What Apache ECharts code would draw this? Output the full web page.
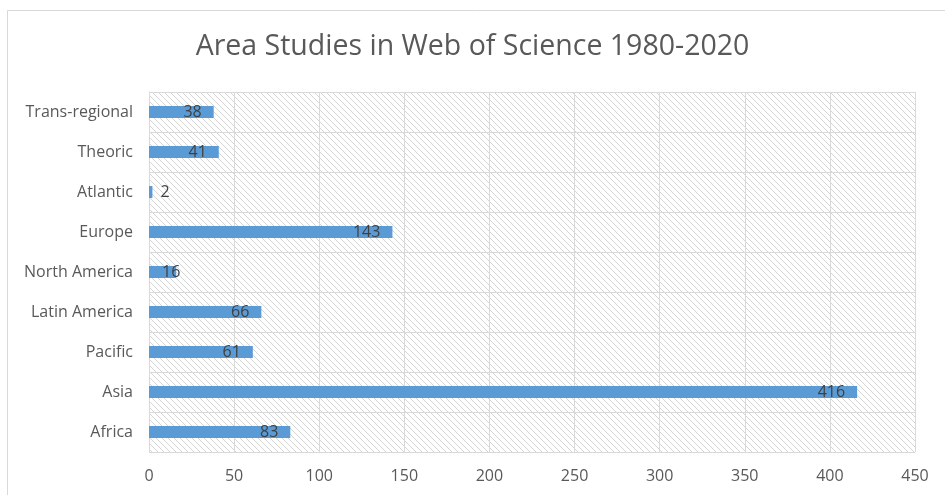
<!DOCTYPE html>
<html>
<head>
<meta charset="utf-8">
<script src="https://cdn.jsdelivr.net/npm/echarts@6/dist/echarts.min.js"></script>
<style>
html,body{margin:0;padding:0;background:#fff;}
#chart{width:945px;height:495px;}
</style>
</head>
<body>
<div id="chart"></div>
<script>
const categories = ['Africa', 'Asia', 'Pacific', 'Latin America', 'North America', 'Europe', 'Atlantic', 'Theoric', 'Trans-regional'];
const values = [83, 416, 61, 66, 16, 143, 2, 41, 38];
const xTicks = [0, 50, 100, 150, 200, 250, 300, 350, 400, 450];
const titleText = 'Area Studies in Web of Science 1980-2020';

function makeHatch() {
  const c = document.createElement('canvas');
  const s = 6;
  c.width = s; c.height = s;
  const g = c.getContext('2d');
  g.fillStyle = '#ffffff';
  g.fillRect(0, 0, s, s);
  g.strokeStyle = '#d4d4d4';
  g.lineWidth = 1;
  g.beginPath();
  g.moveTo(-1, -1); g.lineTo(s + 1, s + 1);
  g.moveTo(-1, s - 1); g.lineTo(1, s + 1);
  g.moveTo(s - 1, -1); g.lineTo(s + 1, 1);
  g.stroke();
  return c;
}

const font = '"Open Sans", "Noto Sans", sans-serif';
const chart = echarts.init(document.getElementById('chart'), null, {renderer: 'canvas'});

const seriesData = values.map(v => {
  if (v < 10) {
    return {value: v, label: {position: 'right', distance: 8}};
  }
  if (v < 25) {
    return {value: v, label: {position: 'insideLeft', distance: 13}};
  }
  return v;
});

chart.setOption({
  animation: false,
  backgroundColor: '#ffffff',
  graphic: [{
    type: 'rect',
    shape: {x: 7.5, y: 10.5, width: 960, height: 500},
    style: {fill: 'none', stroke: '#d9d9d9', lineWidth: 1},
    silent: true
  }],
  title: {
    text: titleText,
    left: 'center',
    top: 27,
    textStyle: {fontFamily: font, fontSize: 28.5, fontWeight: 'normal', color: '#595959'}
  },
  grid: {
    left: 149, right: 30, top: 92, height: 360,
    show: true,
    borderWidth: 0,
    backgroundColor: {image: makeHatch(), repeat: 'repeat'}
  },
  xAxis: {
    type: 'value',
    min: 0, max: 450, interval: 50,
    axisLine: {show: false},
    axisTick: {show: false},
    axisLabel: {color: '#595959', fontSize: 16, fontFamily: font, margin: 16,
      formatter: v => xTicks.includes(v) ? String(v) : ''},
    splitLine: {show: true, lineStyle: {color: '#d9d9d9', width: 1}}
  },
  yAxis: {
    type: 'category',
    data: categories,
    boundaryGap: true,
    axisLine: {show: true, lineStyle: {color: '#d9d9d9'}},
    axisTick: {show: false},
    axisLabel: {color: '#595959', fontSize: 16, fontFamily: font, margin: 16},
    splitLine: {show: true, lineStyle: {color: '#d9d9d9', width: 1}}
  },
  series: [{
    type: 'bar',
    data: seriesData,
    barWidth: 12,
    itemStyle: {color: '#5b9bd5'},
    label: {
      show: true,
      position: 'insideRight',
      distance: 12,
      color: '#404040',
      fontSize: 16,
      fontFamily: font
    }
  }]
});
</script>
</body>
</html>
